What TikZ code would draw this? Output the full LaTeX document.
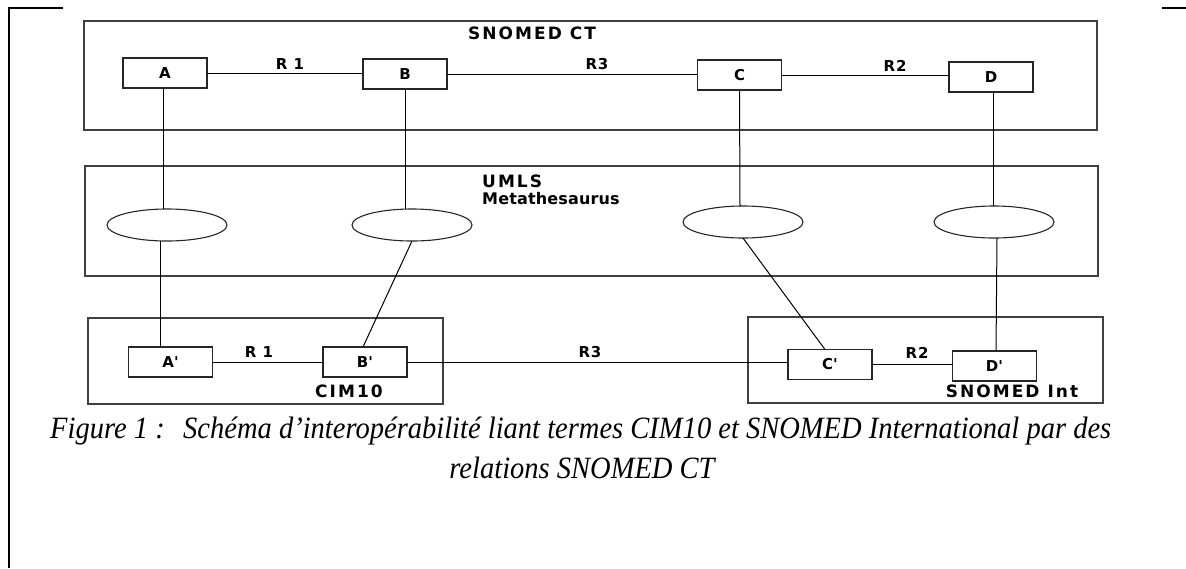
\documentclass[tikz,border=0pt]{standalone}
\usepackage{fontspec}
\usetikzlibrary{shapes.geometric}
\setmainfont{Liberation Serif}
\newfontfamily\labfont[LetterSpace=1]{DejaVu Sans Bold}
\newfontfamily\capsfont[LetterSpace=12]{DejaVu Sans Bold}
\newfontfamily\relfont[LetterSpace=6]{DejaVu Sans Bold}
\newcommand{\pr}{\textquotesingle}
\begin{document}
\begin{tikzpicture}[x=1pt,y=-1pt,
  frame/.style={line width=1.6pt, black},
  outerbox/.style={draw=black!75, line width=1.3pt, inner sep=0pt, outer sep=0pt},
  cbox/.style={draw=black!85, line width=1.2pt, minimum width=84pt, minimum height=30pt, inner sep=0pt, outer sep=0pt, font=\relfont\fontsize{15}{17}\selectfont},
  ell/.style={ellipse, draw=black!85, line width=1.1pt, minimum width=120pt, minimum height=32pt, inner sep=0pt, outer sep=0pt},
  conn/.style={line width=1pt, black},
  lab/.style={inner sep=0pt, font=\labfont\fontsize{16}{18}\selectfont},
  clab/.style={inner sep=0pt, font=\capsfont\fontsize{17}{19}\selectfont},
  rlab/.style={inner sep=0pt, font=\relfont\fontsize{15}{17}\selectfont},
  captext/.style={inner sep=0pt, font=\itshape\fontsize{31}{36}\selectfont}
]
\useasboundingbox (0,0) rectangle (1186,568);
% page frame
\coordinate (f1) at (63,8);
\coordinate (f2) at (9,8);
\coordinate (f3) at (9,568);
\coordinate (f4) at (1162,8);
\coordinate (f5) at (1186,8);
\draw[frame] (f1) -- (f2) -- (f3);
\draw[frame] (f4) -- (f5);

% container boxes
\node[outerbox, minimum width=1013pt, minimum height=109pt] (snomed) at (590.5,75.5) {};
\node[outerbox, minimum width=1013pt, minimum height=110pt] (umls) at (591.5,221) {};
\node[outerbox, minimum width=355pt, minimum height=86pt] (cim) at (265.5,361) {};
\node[outerbox, minimum width=355pt, minimum height=86pt] (sint) at (925.5,360) {};

% container labels
\node[clab, anchor=west] (tsn) at (468,33) {SNOMED CT};
\node[clab, anchor=west] (tum) at (482,181) {UMLS};
\node[lab, anchor=west] (tmeta) at (482,199) {Metathesaurus};
\node[clab] (tcim) at (349,391) {CIM10};
\node[clab] (tsint) at (1012,391) {SNOMED Int};

% concept boxes
\node[cbox] (A) at (165,73) {A};
\node[cbox] (B) at (405,74) {B};
\node[cbox] (C) at (739.5,75) {C};
\node[cbox] (D) at (991,77) {D};
\node[cbox] (Ap) at (170.5,362) {A\pr};
\node[cbox] (Bp) at (365,362) {B\pr};
\node[cbox] (Cp) at (830,364.5) {C\pr};
\node[cbox] (Dp) at (994.5,366) {D\pr};

% ellipses
\node[ell] (e1) at (167,225) {};
\node[ell] (e2) at (412,225) {};
\node[ell] (e3) at (743,222) {};
\node[ell] (e4) at (994,222) {};

% relations top
\draw[conn] (A.east) -- (A.east -| B.west);
\draw[conn] (B.east) -- (B.east -| C.west);
\draw[conn] (C.east) -- (C.east -| D.west);
\node[rlab] (r1) at (290,64) {R 1};
\node[rlab] (r3) at (597,64) {R3};
\node[rlab] (r2) at (895,66) {R2};

% relations bottom
\draw[conn] (Ap.east) -- (Ap.east -| Bp.west);
\draw[conn] (Bp.east) -- (Bp.east -| Cp.west);
\draw[conn] (Cp.east) -- (Cp.east -| Dp.west);
\node[rlab] (r1b) at (259,352) {R 1};
\node[rlab] (r3b) at (590,352) {R3};
\node[rlab] (r2b) at (917,353) {R2};

% vertical mappings
\draw[conn] ([xshift=-2pt]A.south) -- ([xshift=-4pt]e1.north);
\draw[conn] (B.south) -- ([xshift=-7pt]e2.north);
\draw[conn] (C.south) -- ([xshift=-3pt]e3.north);
\draw[conn] ([xshift=2pt]D.south) -- ([xshift=-1pt]e4.north);
\draw[conn] ([xshift=-7pt]e1.south) -- ([xshift=-10.5pt]Ap.north);
\draw[conn] (e2.south) -- ([xshift=-2pt]Bp.north);
\draw[conn] (e3.south) -- ([xshift=-5pt]Cp.north);
\draw[conn] ([xshift=3pt]e4.south) -- ([xshift=1.5pt]Dp.north);

% caption
\node[captext, anchor=base west] (cap1) at (50,438) {\scalebox{0.92}[1]{Figure 1 :\hspace{20pt}Schéma d’interopérabilité liant termes CIM10 et SNOMED International par des}};
\node[captext, anchor=base] (cap2) at (582,478) {\scalebox{0.92}[1]{relations SNOMED CT}};
\end{tikzpicture}
\end{document}
